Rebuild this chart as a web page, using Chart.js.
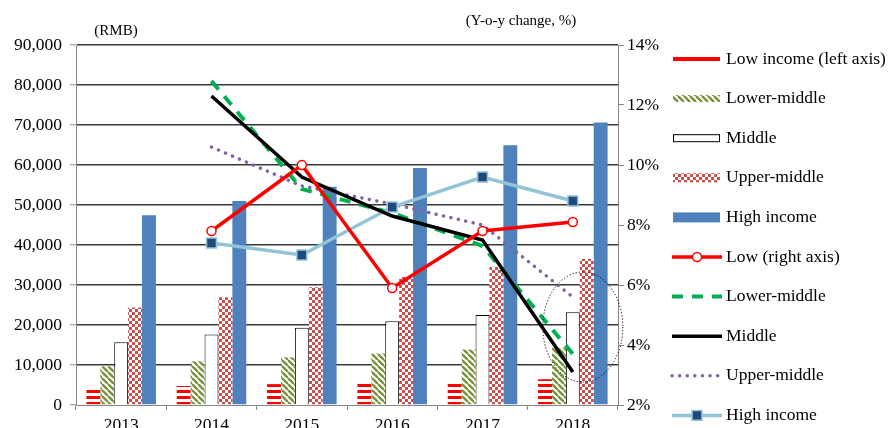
<!DOCTYPE html>
<html>
<head>
<meta charset="utf-8">
<script src="https://cdn.jsdelivr.net/npm/chart.js@4.4.1/dist/chart.umd.min.js"></script>
<style>
  html, body { margin: 0; padding: 0; background: #fff; overflow: hidden; }
  #wrap { position: relative; width: 891px; height: 428px; }
</style>
</head>
<body>
<div id="wrap"><canvas id="chart"></canvas></div>
<script>
const years = ["2013", "2014", "2015", "2016", "2017", "2018"];

// per capita disposable income by quintile (RMB)
const lowIncome = [4400, 4750, 5220, 5530, 5960, 6440];
const lowerMiddle = [9650, 10890, 11890, 12900, 13840, 14360];
const middle = [15700, 17630, 19320, 20920, 22500, 23190];
const upperMiddle = [24360, 26940, 29440, 31990, 34550, 36470];
const highIncome = [47460, 50970, 54540, 59260, 64930, 70640];

// year-on-year change (%)
const lowYoy = [null, 7.8, 10.0, 5.9, 7.8, 8.1];
const lowerMiddleYoy = [null, 12.8, 9.2, 8.4, 7.3, 3.7];
const middleYoy = [null, 12.3, 9.6, 8.3, 7.5, 3.1];
const upperMiddleYoy = [null, 10.6, 9.3, 8.7, 8.0, 5.6];
const highYoy = [null, 7.4, 7.0, 8.6, 9.6, 8.8];

const FONT = '"Liberation Serif", "Times New Roman", serif';
Chart.defaults.font.family = FONT;
Chart.defaults.font.size = 17.5;
Chart.defaults.color = "#000";

function tile(w, h, paint) {
  const c = document.createElement("canvas");
  c.width = w;
  c.height = h;
  const g = c.getContext("2d");
  g.fillStyle = "#fff";
  g.fillRect(0, 0, w, h);
  paint(g);
  return g.createPattern(c, "repeat");
}

const redStripes = tile(6, 6, g => {
  g.fillStyle = "#ff0000";
  g.fillRect(0, 0, 6, 3);
});

const greenDiagonal = tile(6, 6, g => {
  g.strokeStyle = "#77933c";
  g.lineWidth = 2.4;
  for (let k = -6; k <= 6; k += 6) {
    g.beginPath();
    g.moveTo(k, 0);
    g.lineTo(k + 6, 6);
    g.stroke();
  }
});

const redChecks = tile(6, 6, g => {
  g.fillStyle = "#c9504d";
  g.fillRect(0, 0, 3, 3);
  g.fillRect(3, 3, 3, 3);
});

// side legend, one row per dataset
const sideLegend = {
  id: "sideLegend",
  afterDraw(chart) {
    const { ctx, chartArea } = chart;
    const x0 = chartArea.right + 55;
    let y = chartArea.top + 14;
    ctx.save();
    ctx.font = "17.5px " + FONT;
    ctx.textBaseline = "middle";
    ctx.textAlign = "left";
    chart.data.datasets.forEach(ds => {
      if (ds.type === "line") {
        ctx.save();
        ctx.strokeStyle = ds.borderColor;
        ctx.lineWidth = ds.borderWidth;
        ctx.lineCap = ds.borderCapStyle || "butt";
        ctx.setLineDash(ds.borderDash || []);
        ctx.beginPath();
        ctx.moveTo(x0 - 1, y);
        ctx.lineTo(x0 + 49, y);
        ctx.stroke();
        ctx.setLineDash([]);
        if (ds.pointRadius > 0) {
          ctx.fillStyle = ds.pointBackgroundColor;
          ctx.strokeStyle = ds.pointBorderColor;
          ctx.lineWidth = ds.pointBorderWidth;
          Chart.helpers.drawPoint(ctx, {
            pointStyle: ds.pointStyle,
            radius: ds.pointRadius,
            borderWidth: ds.pointBorderWidth
          }, x0 + 24, y);
        }
        ctx.restore();
      } else {
        const h = ds.legendBoxHeight;
        ctx.fillStyle = ds.legendFill || ds.backgroundColor;
        ctx.fillRect(x0, y - h / 2, 47, h);
        if (ds.borderWidth) {
          ctx.strokeStyle = ds.borderColor;
          ctx.lineWidth = 1;
          ctx.strokeRect(x0 + 0.5, y - h / 2 + 0.5, 46, h - 1);
        }
      }
      ctx.fillStyle = "#000";
      ctx.fillText(ds.label, x0 + 53, y);
      y += 39.6;
    });
    ctx.restore();
  }
};

// axis captions and the dotted ring around the 2018 slowdown
const captions = {
  id: "captions",
  afterDraw(chart) {
    const { ctx, chartArea, scales } = chart;
    ctx.save();
    ctx.font = "15px " + FONT;
    ctx.fillStyle = "#000";
    ctx.textAlign = "center";
    ctx.textBaseline = "middle";
    ctx.fillText("(RMB)", chartArea.left + 40, chartArea.top - 14);
    ctx.fillText("(Y-o-y change, %)", chartArea.right - 97, chartArea.top - 24);

    const cx = scales.x.getPixelForValue(5) + 10;
    const cy = scales.y2.getPixelForValue(4.6);
    ctx.strokeStyle = "#000";
    ctx.lineWidth = 1;
    ctx.setLineDash([1.2, 2]);
    ctx.beginPath();
    ctx.ellipse(cx, cy, 40, 55, 0, 0, Math.PI * 2);
    ctx.stroke();
    ctx.restore();
  }
};

const gridColor = "#383838";
const axisColor = "#868686";

new Chart(document.getElementById("chart"), {
  type: "bar",
  data: {
    labels: years,
    datasets: [
      { label: "Low income (left axis)", data: lowIncome, yAxisID: "y", order: 2,
        backgroundColor: redStripes, legendFill: "#ff0000", legendBoxHeight: 4 },
      { label: "Lower-middle", data: lowerMiddle, yAxisID: "y", order: 2,
        backgroundColor: greenDiagonal, legendBoxHeight: 7 },
      { label: "Middle", data: middle, yAxisID: "y", order: 2,
        backgroundColor: "#ffffff", borderColor: "#000000", borderWidth: 1, legendBoxHeight: 8 },
      { label: "Upper-middle", data: upperMiddle, yAxisID: "y", order: 2,
        backgroundColor: redChecks, legendBoxHeight: 9 },
      { label: "High income", data: highIncome, yAxisID: "y", order: 2,
        backgroundColor: "#4f81bd", legendBoxHeight: 10 },

      { type: "line", label: "Low (right axis)", data: lowYoy, yAxisID: "y2", order: 0,
        borderColor: "#ff0000", borderWidth: 3.5,
        pointStyle: "circle", pointRadius: 4.5, pointBorderWidth: 1.5,
        pointBackgroundColor: "#ffffff", pointBorderColor: "#ff0000" },
      { type: "line", label: "Lower-middle", data: lowerMiddleYoy, yAxisID: "y2", order: 1,
        borderColor: "#00b050", borderWidth: 4, borderDash: [11, 9], pointRadius: 0 },
      { type: "line", label: "Middle", data: middleYoy, yAxisID: "y2", order: 0,
        borderColor: "#000000", borderWidth: 3.5, pointRadius: 0 },
      { type: "line", label: "Upper-middle", data: upperMiddleYoy, yAxisID: "y2", order: 1,
        borderColor: "#8064a2", borderWidth: 3.5, borderDash: [0.1, 7.5],
        borderCapStyle: "round", pointRadius: 0 },
      { type: "line", label: "High income", data: highYoy, yAxisID: "y2", order: 0,
        borderColor: "#93c3d6", borderWidth: 3.5,
        pointStyle: "rect", pointRadius: 7, pointBorderWidth: 1.5,
        pointBackgroundColor: "#1f497d", pointBorderColor: "#93c3d6" }
    ]
  },
  options: {
    responsive: true,
    maintainAspectRatio: false,
    animation: false,
    layout: { padding: { top: 45, right: 0, bottom: 0, left: 0 } },
    datasets: {
      bar: { barPercentage: 1.0, categoryPercentage: 0.77 },
      line: { tension: 0, spanGaps: false }
    },
    plugins: {
      legend: { display: false },
      tooltip: { enabled: false }
    },
    scales: {
      x: {
        grid: { drawOnChartArea: false, tickLength: 5, tickColor: axisColor },
        border: { color: axisColor, width: 1 },
        ticks: { padding: 5 },
        afterFit: s => { s.height = 23; }
      },
      y: {
        position: "left",
        min: 0,
        max: 90000,
        ticks: {
          stepSize: 10000,
          padding: 8,
          callback: v => v.toLocaleString("en-US")
        },
        grid: {
          color: c => (c.tick && c.tick.value === 0 ? "rgba(0,0,0,0)" : gridColor),
          lineWidth: 1.6,
          tickLength: 6,
          tickColor: axisColor,
          tickWidth: 1
        },
        border: { color: axisColor, width: 1 },
        afterFit: s => { s.width = 76; }
      },
      y2: {
        position: "right",
        min: 2,
        max: 14,
        ticks: { stepSize: 2, padding: 3, callback: v => v + "%" },
        grid: { drawOnChartArea: false, tickLength: 6, tickColor: axisColor },
        border: { color: axisColor, width: 1 },
        afterFit: s => { s.width = 273; }
      }
    }
  },
  plugins: [sideLegend, captions]
});
</script>
</body>
</html>
